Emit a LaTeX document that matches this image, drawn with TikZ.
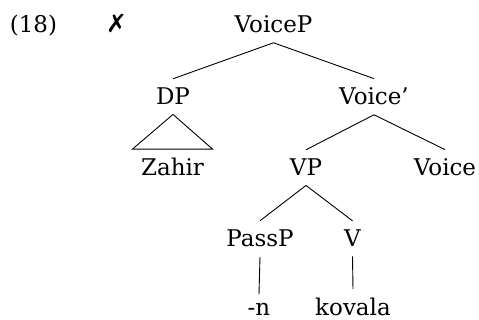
\documentclass[tikz,border=0pt]{standalone}
\usepackage{fontspec}
\setmainfont{DejaVu Serif}
\newfontfamily\markfont{DejaVu Sans}

\begin{document}
\begin{tikzpicture}[x=0.5pt,y=-0.5pt]
	\tikzstyle{every node}=[anchor=base,inner sep=4.5pt,font=\fontsize{11.5pt}{14pt}\selectfont];
	\tikzstyle{every path}=[line width=0.45pt];

	\useasboundingbox (0,0) rectangle (479,320);

	\node at (33.5,33) (ex) {(18)};
	\node at (116.5,33) (mark) {\markfont\fontsize{12.5pt}{14pt}\selectfont ✗};
	\node at (273.5,33) (voicep) {VoiceP};
	\node at (173,105) (dp) {DP};
	\node at (374,105) (voicebar) {Voice’};
	\node at (172.5,176) (zahir) {Zahir};
	\node at (306,176) (vp) {VP};
	\node at (445,176) (voice) {Voice};
	\node at (260,247) (passp) {PassP};
	\node at (352.5,247) (v) {V};
	\node at (259,316) (pass) {-n};
	\node at (353,316) (kovala) {kovala};

	\draw (voicep.south) to (dp.north);
	\draw (voicep.south) to (voicebar.north);
	\draw (dp.south) -- ([xshift=-20pt]zahir.north) -- ([xshift=20pt]zahir.north) -- cycle;
	\draw (voicebar.south) to (vp.north);
	\draw (voicebar.south) to (voice.north);
	\draw (vp.south) to (passp.north);
	\draw (vp.south) to (v.north);
	\draw (passp.south) to (pass.north);
	\draw (v.south) to (kovala.north);
\end{tikzpicture}
\end{document}
